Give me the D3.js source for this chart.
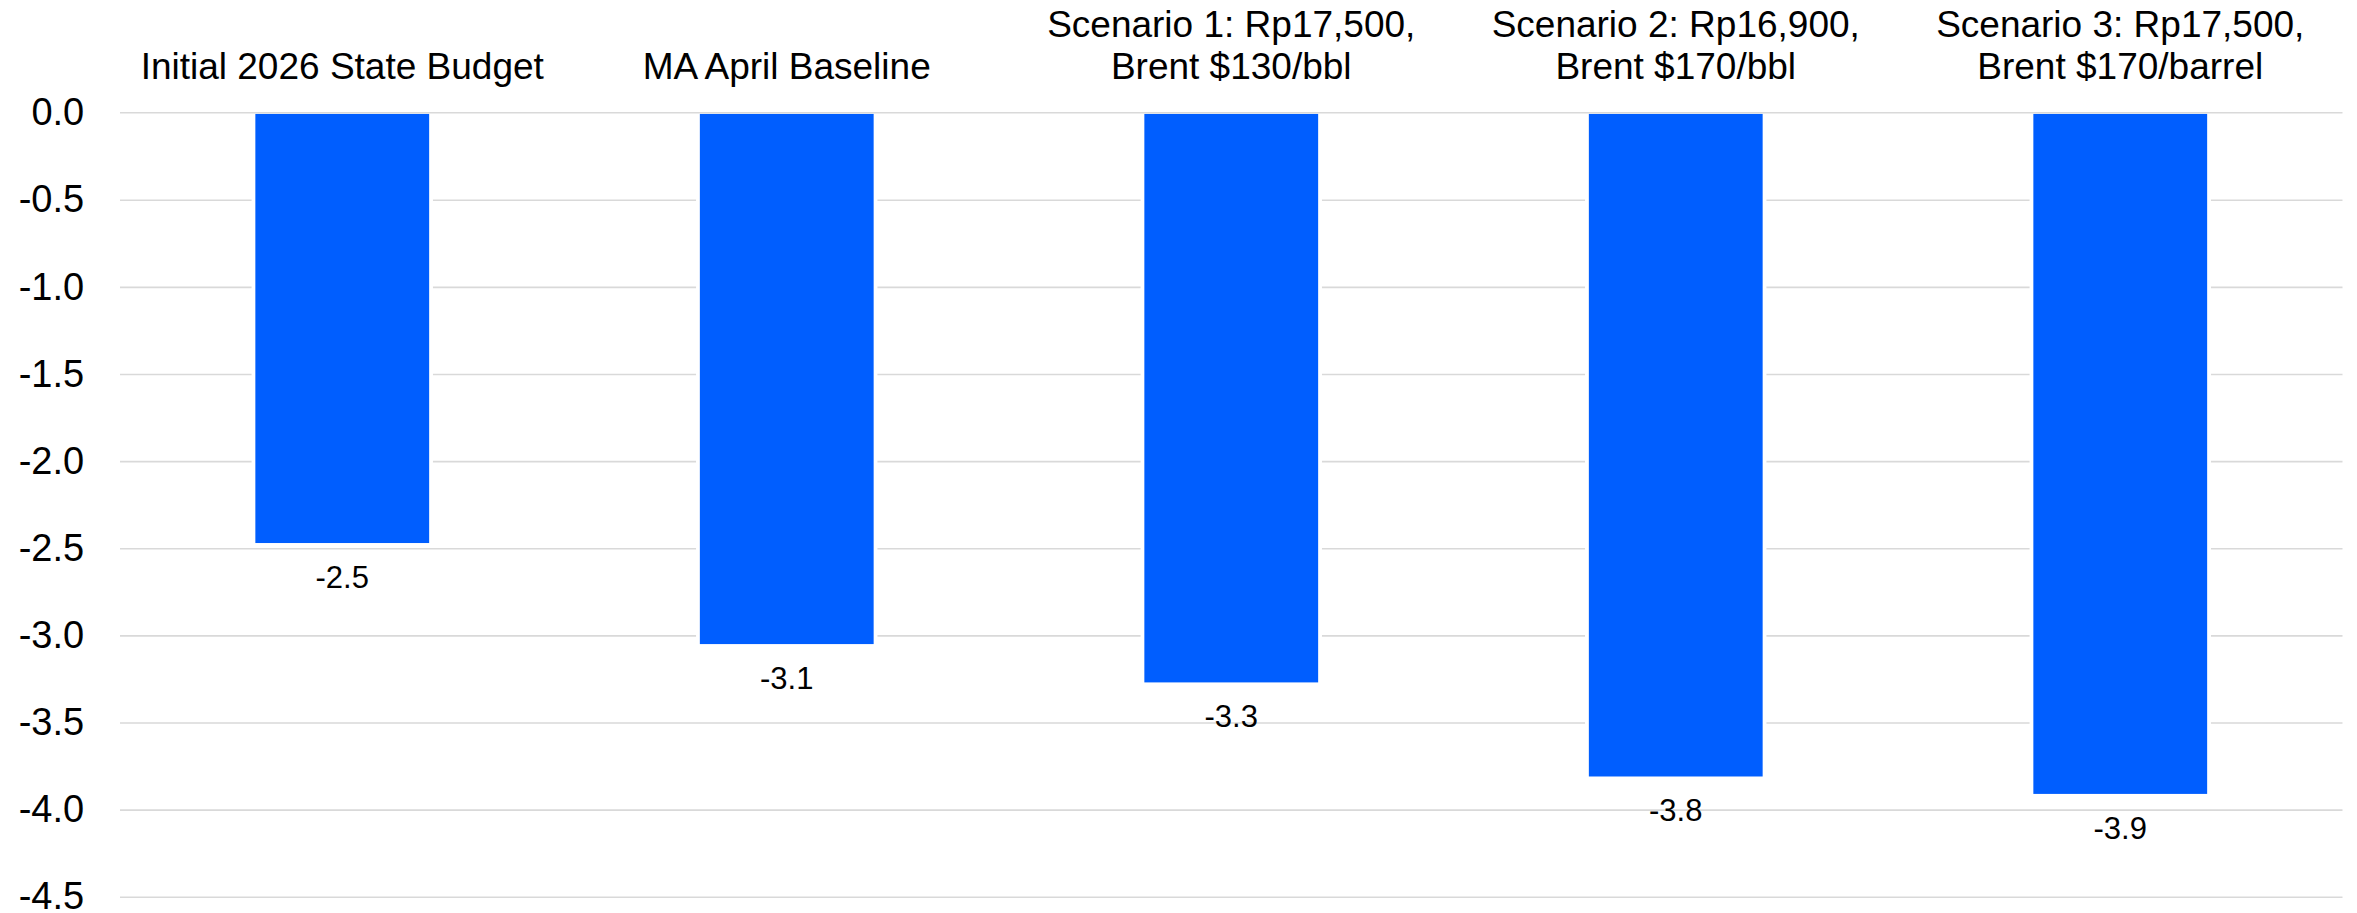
<!DOCTYPE html>
<html>
<head>
<meta charset="utf-8">
<script src="https://cdn.jsdelivr.net/npm/d3@7"></script>
<style>
  html, body { margin: 0; padding: 0; background: #fff; }
  svg { display: block; }
</style>
</head>
<body>
<svg id="chart" width="2357" height="913"></svg>
<script>
// ---- data ----
const categories = [
  "Initial 2026 State Budget",
  "MA April Baseline",
  "Scenario 1: Rp17,500, Brent $130/bbl",
  "Scenario 2: Rp16,900, Brent $170/bbl",
  "Scenario 3: Rp17,500, Brent $170/barrel"
];
const values = [-2.47, -3.05, -3.27, -3.81, -3.91];
const valueLabels = ["-2.5", "-3.1", "-3.3", "-3.8", "-3.9"];
const yTicks = [0.0, -0.5, -1.0, -1.5, -2.0, -2.5, -3.0, -3.5, -4.0, -4.5];

// ---- layout ----
const svg = d3.select("#chart");
const plot = { left: 120, right: 2342.5, top: 112.7, bottom: 896.7 };
const font = "'Liberation Sans', Arial, sans-serif";
const blue = "#005EFF";
const grid = "#d9d9d9";

const x = d3.scaleBand().domain(categories).range([plot.left, plot.right]).padding(0);
const y = d3.scaleLinear().domain([-4.5, 0]).range([plot.bottom, plot.top]);
const barW = x.bandwidth() * 0.391;

// gridlines
const gridG = svg.append("g")
  .attr("transform", `translate(${plot.left},0)`)
  .call(d3.axisLeft(y).tickValues(yTicks.filter(t => t !== 0)).tickSize(-(plot.right - plot.left)).tickFormat(""));
gridG.select(".domain").remove();
gridG.selectAll("line").attr("stroke", grid).attr("stroke-width", 1.6);

// y axis labels
const yAxis = svg.append("g")
  .attr("transform", `translate(${plot.left},0)`)
  .call(d3.axisLeft(y).tickValues(yTicks).tickSize(0).tickPadding(35.8).tickFormat(d => d.toFixed(1)));
yAxis.select(".domain").remove();
yAxis.selectAll("text").attr("font-family", font).attr("font-size", 38).attr("fill", "#000");

// bars: white halo + blue fill
const barsG = svg.append("g");
barsG.selectAll("rect.halo").data(values).join("rect")
  .attr("class", "halo")
  .attr("x", (d, i) => x(categories[i]) + x.bandwidth() / 2 - barW / 2 - 3.8)
  .attr("width", barW + 7.6)
  .attr("y", y(0))
  .attr("height", (d) => y(d) - y(0) + 3.8)
  .attr("fill", "#fff");
barsG.selectAll("rect.bar").data(values).join("rect")
  .attr("class", "bar")
  .attr("x", (d, i) => x(categories[i]) + x.bandwidth() / 2 - barW / 2)
  .attr("width", barW)
  .attr("y", y(0) + 1.2)
  .attr("height", (d) => y(d) - y(0) - 1.2)
  .attr("fill", blue);

// zero (category axis) line on top
svg.append("line")
  .attr("x1", plot.left).attr("x2", plot.right)
  .attr("y1", y(0)).attr("y2", y(0))
  .attr("stroke", grid).attr("stroke-width", 1.6);

// value labels
svg.append("g").selectAll("text").data(values).join("text")
  .attr("x", (d, i) => x(categories[i]) + x.bandwidth() / 2)
  .attr("y", d => y(d) + 45)
  .attr("text-anchor", "middle")
  .attr("font-family", font).attr("font-size", 31).attr("fill", "#000")
  .text((d, i) => valueLabels[i]);

// category labels at top (wrapped after comma, bottom-aligned)
const catG = svg.append("g");
categories.forEach((c) => {
  const idx = c.indexOf(", ");
  const lines = idx >= 0 ? [c.slice(0, idx + 1), c.slice(idx + 2)] : [c];
  const lastBaseline = 79.3, lh = 42.6;
  const t = catG.append("text")
    .attr("text-anchor", "middle")
    .attr("font-family", font).attr("font-size", 37).attr("fill", "#000");
  lines.forEach((ln, j) => {
    t.append("tspan")
      .attr("x", x(c) + x.bandwidth() / 2)
      .attr("y", lastBaseline - (lines.length - 1 - j) * lh)
      .text(ln);
  });
});
</script>
</body>
</html>
